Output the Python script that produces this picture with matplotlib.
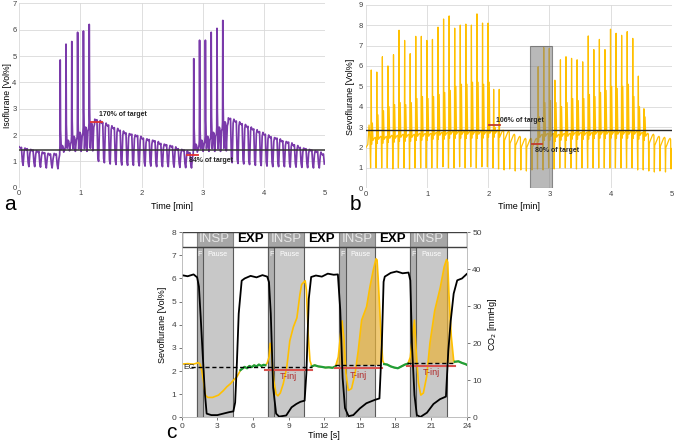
import numpy as np
import matplotlib.pyplot as plt
from matplotlib.patches import Rectangle

plt.rcParams['font.family'] = ['Liberation Sans', 'DejaVu Sans']

# ---------------- panel a: isoflurane, one value per breath (Vol%) ----------------
iso_period = 0.095  # min between breaths
iso_top = [1.55, 1.5, 1.45, 1.4, 1.35, 1.3, 1.3,
           1.6, 1.8, 1.95, 2.1, 2.3, 2.45,
           2.6, 2.5, 2.4, 2.3, 2.2, 2.1, 2.05, 2.0, 1.9, 1.85, 1.8, 1.7, 1.65, 1.6, 1.5, 1.45, 1.35,
           1.65, 1.8, 1.95, 2.1, 2.3, 2.5,
           2.65, 2.55, 2.45, 2.35, 2.25, 2.15, 2.05, 1.95, 1.9, 1.8, 1.75, 1.65, 1.55, 1.5, 1.45, 1.4, 1.3]
iso_trough = [0.85, 0.8, 0.8, 0.78, 0.75, 0.75, 0.72,
              1.35, 1.4, 1.38, 1.38, 1.38, 1.4,
              1.0, 0.95, 0.9, 0.88, 0.86, 0.85, 0.85, 0.83, 0.82, 0.82, 0.8, 0.8, 0.8, 0.78, 0.77, 0.76, 0.75,
              1.35, 1.38, 1.38, 1.38, 1.38, 1.4,
              0.95, 0.92, 0.9, 0.88, 0.85, 0.84, 0.82, 0.8, 0.8, 0.8, 0.78, 0.78, 0.77, 0.76, 0.75, 0.75, 0.75]
iso_spike = [0] * 7 + [4.85, 5.45, 5.55, 5.9, 5.95, 6.2] + [0] * 17 + \
            [4.9, 5.6, 5.6, 5.9, 6.05, 6.35] + [0] * 17
iso_target = 1.44

# ---------------- panel b: sevoflurane, one value per breath (Vol%) ----------------
sev_start = 0.075
sev_period = 0.091
sev_lead_t = [0.0, 0.03, 0.05, 0.065]
sev_lead_v = [2.0, 2.15, 3.1, 2.4]
sev_spike = [5.8, 5.7, 6.45, 6.0, 6.55, 7.75, 7.25, 6.6, 7.45, 7.45, 7.25, 7.3, 7.9, 8.3, 8.45,
             7.85, 8.0, 8.05, 8.0, 8.55, 8.1, 8.1,
             4.85, 4.85,
             0, 0, 0, 0, 0, 0,
             5.96, 6.9, 6.86, 5.3, 6.3, 6.45, 6.37, 6.3, 6.2, 7.47, 6.8, 7.3, 6.8, 7.8, 7.6, 7.5, 7.68, 7.35,
             5.5, 3.9,
             0, 0, 0, 0, 0]
sev_sub = [3.2, 3.6, 3.8, 4.0, 4.1, 4.2, 4.1, 4.2, 4.4, 4.5, 4.4, 4.5, 4.6, 4.7, 4.8,
           5.0, 5.1, 5.1, 5.2, 5.2, 5.1, 5.2,
           3.0, 0,
           0, 0, 0, 0, 0, 0,
           3.5, 4.2, 4.3, 4.2, 4.0, 4.2, 4.4, 4.3, 4.4, 4.6, 4.5, 4.7, 4.8, 5.0, 4.9, 5.0, 5.1, 4.5,
           4.0, 3.5,
           0, 0, 0, 0, 0]
sev_plat = [2.45, 2.5, 2.5, 2.55, 2.55, 2.6, 2.6, 2.6, 2.65, 2.65, 2.65, 2.7, 2.7, 2.7, 2.75,
            2.75, 2.75, 2.75, 2.75, 2.75, 2.75, 2.8,
            2.8, 2.8,
            2.75, 2.6, 2.5, 2.4, 2.4, 2.4,
            2.6, 2.65, 2.65, 2.6, 2.65, 2.65, 2.7, 2.7, 2.7, 2.7, 2.75, 2.75, 2.75, 2.75, 2.75, 2.75, 2.75, 2.75,
            2.7, 2.65,
            2.6, 2.5, 2.45, 2.4, 2.35]
sev_trough = [1.0, 1.0, 1.0, 1.0, 0.95, 1.0, 1.0, 0.95, 1.0, 1.0, 1.0, 1.0, 1.0, 1.05, 1.0,
              1.0, 1.05, 1.0, 1.05, 1.0, 1.05, 1.05,
              1.0, 0.95,
              0.9, 0.95, 0.85, 0.9, 0.85, 0.9,
              0.95, 0.9, 1.0, 0.95, 1.0, 1.0, 1.0, 0.95, 1.0, 1.0, 1.0, 1.0, 1.0, 1.0, 1.0, 1.0, 1.0, 1.0,
              0.9, 0.9,
              0.85, 0.8, 0.85, 0.8, 0.95]
sev_target = 2.86

# ---------------- panel c: one breath-cycle recording ----------------
co2_t = [0, 0.5, 1.0, 1.3, 1.45, 1.6, 1.75, 1.95, 2.1, 2.5, 3.0, 3.5, 4.0, 4.35, 4.5, 4.65, 4.8,
         5.05, 5.3, 5.8, 6.3, 6.8, 7.2, 7.35, 7.5, 7.7, 7.95, 8.2, 8.8, 9.25, 9.65, 10.0, 10.35,
         10.5, 10.7, 10.9, 11.3, 11.8, 12.3, 12.8, 13.15, 13.35, 13.55, 13.75, 14.05, 14.45, 15.0,
         15.55, 16.25, 16.65, 16.85, 17.0, 17.1, 17.6, 18.1, 18.6, 19.1, 19.25, 19.4, 19.6, 19.8,
         20.1, 20.65, 21.2, 21.75, 22.25, 22.45, 22.65, 22.9, 23.2, 23.6, 24.0]
co2_v = [38.4, 38.1, 38.6, 37.8, 35.3, 27, 18, 6.6, 1.0, 0.6, 0.6, 1.0, 1.4, 1.6, 4, 15, 28,
         36.9, 37.5, 38.2, 37.8, 38.4, 38.0, 36.5, 28, 8, 1.0, 0.2, 0.5, 2.7, 3.6, 4.2, 4.5,
         12, 32, 37.9, 38.3, 38.0, 38.8, 38.5, 38.6, 29, 10.6, 2.5, 0.3, 0.6, 2.4,
         3.8, 4.7, 5.1, 19.5, 36.6, 38.0, 39.0, 39.4, 38.9, 39.1, 37, 18.8, 6.0, 0.6,
         0.1, 1.25, 3.6, 4.9, 5.6, 18, 26, 33.4, 37.0, 37.5, 38.7]

sevo_t = [0.0, 0.5, 1.0, 1.4, 1.55, 1.7, 1.85, 2.0, 2.2, 2.6, 3.1, 3.5, 3.8, 4.1, 4.37, 4.65, 4.95,
          5.1, 5.3, 5.5, 5.7, 5.9, 6.1, 6.3, 6.5, 6.7, 6.9, 7.05,
          7.2, 7.35, 7.45, 7.55, 7.65, 7.75, 7.95, 8.1, 8.3, 8.55, 8.85, 9.1, 9.4, 9.7, 9.95, 10.1,
          10.3, 10.4, 10.5, 10.65, 10.8, 10.95,
          11.2, 11.5, 11.8, 12.1, 12.4, 12.7, 12.95,
          13.18, 13.38, 13.5, 13.67, 13.83, 14.03, 14.3, 14.6, 14.87, 15.15, 15.57, 15.85, 16.13,
          16.36, 16.45, 16.55, 16.75, 16.92, 17.05,
          17.3, 17.6, 17.9, 18.2, 18.5, 18.8, 19.05,
          19.25, 19.4, 19.6, 19.75, 19.93, 20.13, 20.35, 20.63, 20.9, 21.3, 21.77, 22.1, 22.3, 22.4,
          22.5, 22.7, 22.9, 23.0,
          23.3, 23.6, 23.9, 24.0]
sevo_v = [2.30, 2.32, 2.30, 2.36, 2.3, 2.0, 1.5, 0.95, 0.86, 0.86, 0.96, 1.15, 1.32, 1.45, 1.61, 1.75, 2.04,
          2.1, 2.18, 2.12, 2.22, 2.17, 2.25, 2.2, 2.28, 2.22, 2.27, 2.25,
          2.35, 2.6, 3.2, 2.9, 2.2, 1.6, 1.0, 0.93, 1.05, 1.45, 2.17, 3.3, 3.9, 4.3, 5.3, 5.74,
          5.85, 5.9, 5.5, 3.6, 2.45, 2.2,
          2.25, 2.2, 2.18, 2.15, 2.16, 2.14, 2.2,
          2.6, 3.6, 4.17, 3.35, 1.9, 1.16, 1.24, 1.9, 2.9, 4.2, 4.78, 5.64, 6.36,
          6.85, 6.8, 5.94, 3.9, 2.46, 2.3,
          2.28, 2.2, 2.15, 2.12, 2.2, 2.28, 2.32,
          2.6, 3.34, 4.2, 2.8, 1.5, 0.96, 1.05, 1.77, 3.2, 4.6, 5.6, 6.5, 6.82, 6.7,
          5.35, 3.5, 2.46, 2.4,
          2.42, 2.35, 2.3, 2.27]
green_spans = [(4.95, 7.05), (10.95, 12.95), (17.05, 19.05), (23.0, 24.0)]

insp_start = [1.26, 7.3, 13.28, 19.24]
f_end = [1.77, 7.8, 13.8, 19.74]
insp_end = [4.3, 10.3, 16.3, 22.3]
ec_start = [0.75, 12.95, 19.0]
ec_end = [10.95, 16.85, 23.0]
ec_level = [2.16, 2.25, 2.33]
tinj_start = [7.0, 12.95, 19.0]
tinj_end = [10.95, 16.85, 23.0]
tinj_level = [2.06, 2.12, 2.22]


def iso_wave():
    t, v = [], []
    for k in range(len(iso_top)):
        t0 = k * iso_period
        top, lo, sp = iso_top[k], iso_trough[k], iso_spike[k]
        if sp:
            pts = [(0, top), (0.004, sp), (0.010, top + 0.6), (0.022, lo + 0.1),
                   (0.04, top), (0.05, top - 0.05), (0.062, lo), (0.078, top - 0.15), (0.09, top - 0.05)]
        else:
            pts = [(0, top), (0.025, top - 0.06), (0.035, top - 0.02), (0.05, lo + 0.15),
                   (0.062, lo), (0.078, top - 0.2), (0.09, top - 0.05)]
        for dt, val in pts:
            if t0 + dt <= 5:
                t.append(t0 + dt)
                v.append(val)
    return t, v


def sev_wave():
    t, v = list(sev_lead_t), list(sev_lead_v)
    for k in range(len(sev_spike)):
        t0 = sev_start + k * sev_period
        pl, lo, sp, sb = sev_plat[k], sev_trough[k], sev_spike[k], sev_sub[k]
        pts = [(0, lo), (0.006, pl - 0.4)]
        if sp:
            pts += [(0.011, sp), (0.017, pl - 0.3)]
        if sb:
            pts += [(0.03, sb), (0.04, pl - 0.1)]
        pts += [(0.06, pl), (0.075, pl + 0.05), (0.084, pl)]
        for dt, val in pts:
            if t0 + dt <= 5:
                t.append(t0 + dt)
                v.append(val)
    return t, v


fig = plt.figure(figsize=(6.77, 4.41), dpi=100)

tick_kw = dict(labelsize=5.5, length=0, pad=2, colors='#404040')

# ---------- a ----------
ax_a = fig.add_axes([0.0285, 0.5744, 0.4515, 0.418])
ta, va = iso_wave()
ax_a.plot(ta, va, color='#7a3aaa', lw=1.25)
ax_a.axhline(iso_target, color='#333333', lw=1.1)
ax_a.plot([1.17, 1.35], [2.48, 2.48], color='#e03030', lw=1.3)
ax_a.plot([2.75, 2.93], [1.24, 1.24], color='#e03030', lw=1.3)
ax_a.text(1.3, 2.72, '170% of target', fontsize=5, fontweight='bold', color='#262626')
ax_a.text(2.77, 0.99, '84% of target', fontsize=5, fontweight='bold', color='#262626')
ax_a.set_xlim(0, 5)
ax_a.set_ylim(0, 7)
ax_a.set_xticks(range(6))
ax_a.set_yticks(range(8))
ax_a.grid(color='#d9d9d9', lw=0.6)
ax_a.set_axisbelow(True)
for s in ax_a.spines.values():
    s.set_visible(False)
ax_a.tick_params(**tick_kw)
ax_a.set_xlabel('Time [min]', fontsize=6.5, labelpad=3)
ax_a.set_ylabel('Isoflurane [Vol%]', fontsize=6.2)
ax_a.yaxis.set_label_coords(-0.024, 0.5)

# ---------- b ----------
ax_b = fig.add_axes([0.5406, 0.573, 0.4516, 0.4163])
tb, vb = sev_wave()
ax_b.plot(tb, vb, color='#ffc000', lw=0.9)
ax_b.axhline(sev_target, color='#262626', lw=1.0)
ax_b.add_patch(Rectangle((2.68, 0), 0.37, 7.0, facecolor='#808080', alpha=0.55,
                         edgecolor='#404040', lw=0.8, zorder=3))
ax_b.plot([2.01, 2.19], [3.1, 3.1], color='#c0392b', lw=1.3, zorder=4)
ax_b.plot([2.71, 2.88], [2.17, 2.17], color='#c0392b', lw=1.3, zorder=4)
ax_b.text(2.12, 3.27, '106% of target', fontsize=5, fontweight='bold', color='#262626', zorder=5)
ax_b.text(2.77, 1.8, '80% of target', fontsize=5, fontweight='bold', color='#262626', zorder=5)
ax_b.set_xlim(0, 5)
ax_b.set_ylim(0, 9)
ax_b.set_xticks(range(6))
ax_b.set_yticks(range(10))
ax_b.grid(color='#d9d9d9', lw=0.6)
ax_b.set_axisbelow(True)
for s in ax_b.spines.values():
    s.set_visible(False)
ax_b.tick_params(**tick_kw)
ax_b.set_xlabel('Time [min]', fontsize=6.5, labelpad=3)
ax_b.set_ylabel('Sevoflurane [Vol%]', fontsize=6.5, labelpad=3)

# ---------- c ----------
ax_c = fig.add_axes([0.2684, 0.0537, 0.421, 0.4198])
hdr_lo, hdr_hi = 7.38, 8.0
for s0, f1, s1 in zip(insp_start, f_end, insp_end):
    ax_c.add_patch(Rectangle((s0, 0), s1 - s0, hdr_lo, facecolor='#c8c8c8',
                             edgecolor='#595959', lw=0.8, zorder=1))
    ax_c.add_patch(Rectangle((s0, 0), f1 - s0, hdr_lo, facecolor='#b0b0b0',
                             edgecolor='#595959', lw=0.8, zorder=1))
    ax_c.add_patch(Rectangle((s0, hdr_lo), s1 - s0, hdr_hi - hdr_lo, facecolor='#a6a6a6',
                             edgecolor='#7f7f7f', lw=0.8, zorder=5))
    ax_c.text((s0 + s1) / 2, (hdr_lo + hdr_hi) / 2, 'INSP', color='#e8e8e8', fontsize=9.5,
              ha='center', va='center', zorder=6)
    ax_c.text((s0 + f1) / 2, 7.05, 'F', color='white', fontsize=5, ha='center', va='center', zorder=6)
    ax_c.text((f1 + s1) / 2, 7.05, 'Pause', color='white', fontsize=5, ha='center', va='center', zorder=6)
for e0, e1 in zip(insp_end[:-1], insp_start[1:]):
    ax_c.text((e0 + e1) / 2, (hdr_lo + hdr_hi) / 2, 'EXP', color='black', fontsize=9.5,
              fontweight='bold', ha='center', va='center', zorder=6)
ax_c.add_patch(Rectangle((0, hdr_lo), 24, hdr_hi - hdr_lo, facecolor='none',
                         edgecolor='#404040', lw=1.0, zorder=7))

st = np.array(sevo_t)
sv = np.array(sevo_v)
for e0, e1, lv in zip(ec_start, ec_end, ec_level):
    m = (st >= e0) & (st <= e1)
    if e0 > 5:
        ax_c.fill_between(st, sv, lv, where=m & (sv > lv), interpolate=True,
                          color='#e9b33b', alpha=0.7, lw=0, zorder=2)
    ax_c.plot([e0, e1], [lv, lv], color='black', lw=1.0, ls=(0, (3, 2)), zorder=4)
ax_c.plot(st, sv, color='#ffc000', lw=1.2, zorder=3)
for g0, g1 in green_spans:
    m = (st >= g0) & (st <= g1)
    ax_c.plot(st[m], sv[m], color='#1f9e3a', lw=1.6, zorder=3.5)
for t0, t1, lv in zip(tinj_start, tinj_end, tinj_level):
    ax_c.plot([t0, t1], [lv, lv], color='#d9534f', lw=1.5, zorder=4.5)
    ax_c.text((t0 + t1) / 2, lv - 0.3, 'T-inj', color='#b02a2a', fontsize=6.5,
              ha='center', va='center', zorder=6)
ax_c.text(0.1, 2.14, 'EC', fontsize=6, va='center', ha='left', color='#262626')

ax_c.set_xlim(0, 24)
ax_c.set_ylim(0, 8)
ax_c.set_xticks(range(0, 25, 3))
ax_c.set_yticks(range(9))
ax_c.tick_params(labelsize=6, length=2, width=0.5, pad=2, colors='#404040')
for s in ax_c.spines.values():
    s.set_color('#bfbfbf')
    s.set_linewidth(0.6)
ax_c.spines['top'].set_visible(False)
ax_c.set_xlabel('Time [s]', fontsize=6.5, labelpad=1)
ax_c.set_ylabel('Sevoflurane [Vol%]', fontsize=6.5, labelpad=3)

ax_c2 = ax_c.twinx()
ax_c2.plot(co2_t, co2_v, color='black', lw=1.3)
ax_c2.set_ylim(0, 50)
ax_c2.set_yticks(range(0, 51, 10))
ax_c2.tick_params(labelsize=6, length=2, width=0.5, pad=2, colors='#404040')
for s in ax_c2.spines.values():
    s.set_color('#bfbfbf')
    s.set_linewidth(0.6)
ax_c2.spines['top'].set_visible(False)
ax_c2.set_ylabel('CO$_2$ [mmHg]', fontsize=6.5, labelpad=3)

fig.text(4 / 677, 1 - 205 / 441, 'a', fontsize=15, va='center', ha='left')
fig.text(350 / 677, 1 - 205 / 441, 'b', fontsize=15, va='center', ha='left')
fig.text(166 / 677, 1 - 432 / 441, 'c', fontsize=15, va='center', ha='left')

fig.savefig('out.png', dpi=100)
